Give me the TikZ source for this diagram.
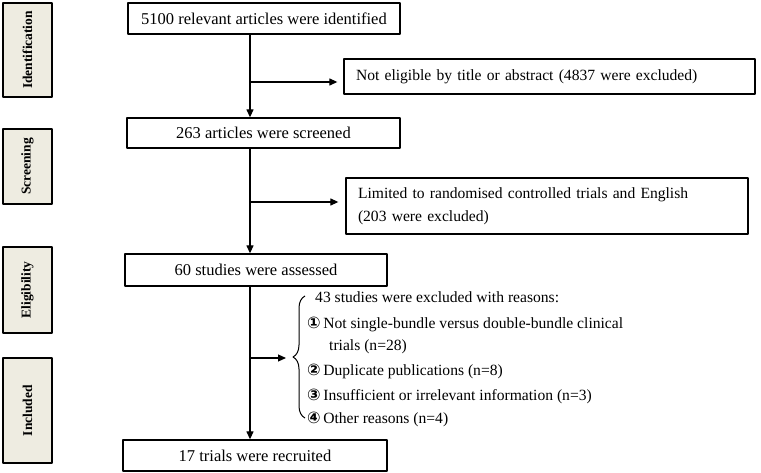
\documentclass[tikz,border=0pt]{standalone}
\usepackage{fontspec}
\setmainfont{Liberation Serif}
\newfontfamily\circfont{DejaVu Sans}
\usetikzlibrary{arrows.meta,decorations.pathreplacing}
\definecolor{stagefill}{HTML}{EEECE1}
\tikzset{
  stagebox/.style={draw, line width=1.4pt, fill=stagefill, rotate=90, inner sep=0pt,
    minimum height=49pt, font=\bfseries\fontsize{13.5}{15}\selectfont},
  flowbox/.style={draw, line width=1.3pt, inner sep=0pt, font=\fontsize{16.5}{19}\selectfont},
  sidebox/.style={flowbox, align=left, inner xsep=12pt, font=\fontsize{15.6}{23}\selectfont},
  reason/.style={anchor=base west, inner sep=0pt, font=\fontsize{15.6}{18}\selectfont},
}
\newcommand{\circnum}[1]{{\circfont\bfseries\fontsize{16}{18}\selectfont #1}}
\begin{document}
\begin{tikzpicture}[x=1pt, y=-1pt, line join=round, >={Triangle[length=8pt,width=7pt]}]
\useasboundingbox (0,0) rectangle (761,473);
% stages
\node[stagebox, minimum width=94pt] (sid) at (27.5,50) {Identification};
\node[stagebox, minimum width=75pt] (sscr) at (27.5,166.5) {Screening};
\node[stagebox, minimum width=86pt] (sel) at (27.5,290) {Eligibility};
\node[stagebox, minimum width=105pt] (sinc) at (27.5,410.5) {Included};
% main boxes
\node[flowbox, minimum width=272pt, minimum height=31pt] (id) at (264,18.5) {5100 relevant articles were identified};
\node[flowbox, minimum width=273pt, minimum height=30pt] (scr) at (263.5,133) {263 articles were screened};
\node[flowbox, minimum width=262pt, minimum height=32pt] (el) at (256,270) {60 studies were assessed};
\node[flowbox, minimum width=264pt, minimum height=31pt] (inc) at (255,455.5) {17 trials were recruited};
% excluded
\node[sidebox, text width=387pt, minimum height=35pt] (ne) at (549.5,76.5) {Not eligible by title or abstract (4837 were excluded)};
\node[sidebox, text width=378pt, minimum height=56pt] (lim) at (547,206)
  {Limited to randomised controlled trials and English\\(203 were excluded)};
% arrows
\coordinate (spine) at (250,0);
\coordinate (b1) at (250,82);
\coordinate (b2) at (250,202);
\coordinate (b3) at (250,358);
\coordinate (tip) at (286,358);
\draw[line width=1.2pt, ->] (id.south -| spine) -- (scr.north -| spine);
\draw[line width=1.2pt, ->] (scr.south -| spine) -- (el.north -| spine);
\draw[line width=1.2pt, ->] (el.south -| spine) -- (inc.north -| spine);
\draw[line width=1.2pt, ->, shorten >=6pt] (b1) -- (b1 -| ne.west);
\draw[line width=1.2pt, ->, shorten >=7pt] (b2) -- (b2 -| lim.west);
\draw[line width=1.2pt, ->] (b3) -- (tip);
% reasons
\draw[line width=1pt, decorate, decoration={brace, amplitude=12pt}] (305,418) -- (305,296);
\node[reason] (r0) at (315,303) {43 studies were excluded with reasons:};
\node[reason] (r1) at (307,328) {\circnum{①}\,Not single-bundle versus double-bundle clinical};
\node[reason] (r2) at (329,351) {trials (n=28)};
\node[reason] (r3) at (307,375) {\circnum{②}\,Duplicate publications (n=8)};
\node[reason] (r4) at (307,400) {\circnum{③}\,Insufficient or irrelevant information (n=3)};
\node[reason] (r5) at (307,423) {\circnum{④}\,Other reasons (n=4)};
\end{tikzpicture}
\end{document}
